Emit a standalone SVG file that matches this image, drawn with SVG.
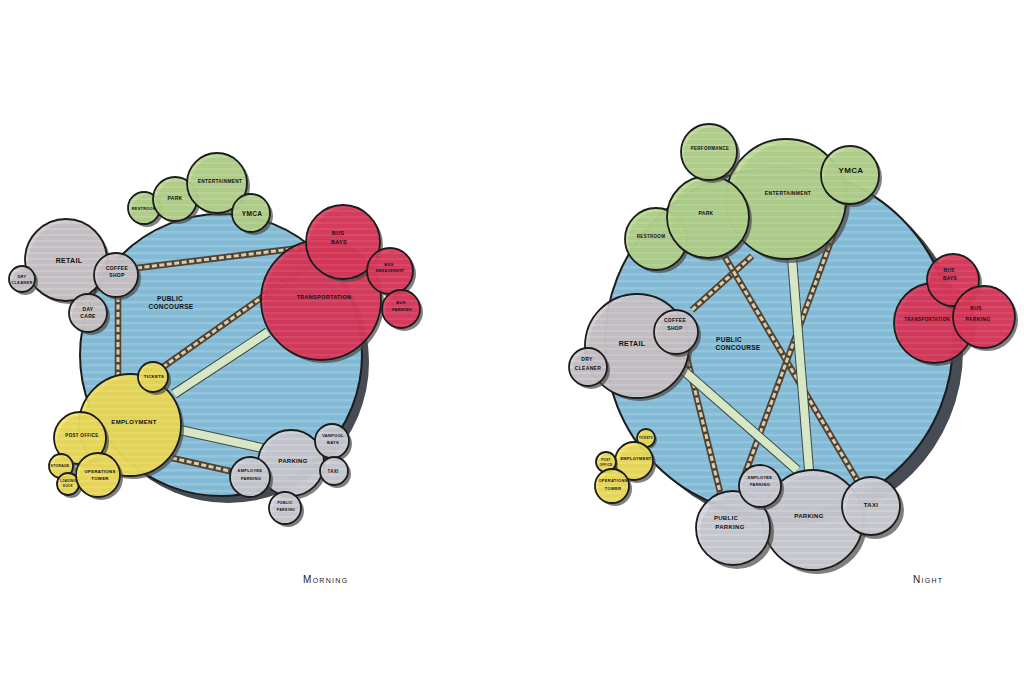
<svg xmlns="http://www.w3.org/2000/svg" width="1024" height="683" viewBox="0 0 1024 683">
<defs>
<pattern id="pBlue" patternUnits="userSpaceOnUse" width="20" height="7"><rect width="20" height="7" fill="#82b9d4"/><rect y="0" width="20" height="2.5" fill="#95c5dc"/></pattern>
<pattern id="pGray" patternUnits="userSpaceOnUse" width="20" height="6"><rect width="20" height="6" fill="#cbc5c9"/><rect width="20" height="2" fill="#d5d0d3"/></pattern>
<pattern id="pGray2" patternUnits="userSpaceOnUse" width="20" height="6"><rect width="20" height="6" fill="#cdcdd5"/><rect width="20" height="2" fill="#d7d7de"/></pattern>
<pattern id="pRed" patternUnits="userSpaceOnUse" width="20" height="6"><rect width="20" height="6" fill="#dd3458"/><rect width="20" height="2" fill="#e24464"/></pattern>
<pattern id="pGreen" patternUnits="userSpaceOnUse" width="20" height="6"><rect width="20" height="6" fill="#b4d58a"/><rect width="20" height="2" fill="#bfdb9a"/></pattern>
<pattern id="pYellow" patternUnits="userSpaceOnUse" width="20" height="6"><rect width="20" height="6" fill="#f0df55"/><rect width="20" height="2" fill="#f4e56c"/></pattern>
</defs>
<style>
.sh{fill:#4a4a4a;opacity:.7}
.shb{fill:#454c54}
.n{stroke:#1c1c1c;stroke-width:1.8;fill-opacity:.9}
.blue{fill:url(#pBlue);stroke:#1c1c1c;stroke-width:2}
.gray{fill:url(#pGray)}
.gray2{fill:url(#pGray2)}
.red{fill:url(#pRed)}
.green{fill:url(#pGreen)}
.yellow{fill:url(#pYellow)}
text{font-family:"Liberation Sans",Arial,sans-serif;fill:#111;text-anchor:middle;letter-spacing:.3px;font-weight:bold}
.dk{stroke:#4f4336;stroke-width:6.5;fill:none}
.dl{stroke:#dccdaa;stroke-width:3;stroke-dasharray:5 2.5;fill:none}
.bk{stroke:#3c4a44;stroke-width:10;fill:none}
.bl{stroke:#d7e7c6;stroke-width:8;fill:none}
.title{font-variant:small-caps;letter-spacing:1.3px;text-anchor:start;font-size:10px;font-weight:normal;fill:#222}
</style>
<rect width="1024" height="683" fill="#ffffff"/>

<!-- LEFT: MORNING -->
<g id="L-concourse">
<circle class="shb" cx="228" cy="362" r="141"/>
<circle class="blue" cx="221" cy="355" r="141"/>
<text font-size="6.5" x="170" y="301">PUBLIC</text>
<text font-size="6.5" x="171" y="309">CONCOURSE</text>
</g>
<g id="L-connectors">
<path class="dk" d="M137 268 L308 247"/><path class="dl" d="M137 268 L308 247"/>
<path class="dk" d="M118 297 L118 376"/><path class="dl" d="M118 297 L118 376"/>
<path class="dk" d="M163 367 L312 262"/><path class="dl" d="M163 367 L312 262"/>
<path class="dk" d="M172 458 L234 472"/><path class="dl" d="M172 458 L234 472"/>
<path class="bk" d="M174 394 L268 332"/><path class="bl" d="M174 394 L268 332"/>
<path class="bk" d="M180 430 L262 448"/><path class="bl" d="M180 430 L262 448"/>
</g>
<g id="L-restroom"><circle class="sh" cx="147" cy="211" r="16"/><circle class="n green" cx="144" cy="208" r="16"/><text font-size="3.8" x="144" y="210">RESTROOM</text></g>
<g id="L-park"><circle class="sh" cx="178" cy="202" r="22"/><circle class="n green" cx="175" cy="199" r="22"/><text font-size="5" x="175" y="200">PARK</text></g>
<g id="L-entertainment"><circle class="sh" cx="220" cy="186" r="30"/><circle class="n green" cx="217" cy="183" r="30"/><text font-size="4.8" x="220" y="183">ENTERTAINMENT</text></g>
<g id="L-ymca"><circle class="sh" cx="254" cy="216" r="19"/><circle class="n green" cx="251" cy="213" r="19"/><text font-size="6.5" x="252" y="216">YMCA</text></g>
<g id="L-retail"><circle class="sh" cx="69" cy="263" r="41"/><circle class="n gray" cx="66" cy="260" r="41"/><text font-size="7" x="69" y="263">RETAIL</text></g>
<g id="L-drycleaner"><circle class="sh" cx="25" cy="282" r="13"/><circle class="n gray" cx="22" cy="279" r="13"/><text font-size="4" x="22" y="278">DRY</text><text font-size="4" x="22" y="284">CLEANER</text></g>
<g id="L-coffeeshop"><circle class="sh" cx="119" cy="278" r="22"/><circle class="n gray" cx="116" cy="275" r="22"/><text font-size="5" x="117" y="270">COFFEE</text><text font-size="5" x="117" y="277">SHOP</text></g>
<g id="L-daycare"><circle class="sh" cx="91" cy="316" r="19"/><circle class="n gray" cx="88" cy="313" r="19"/><text font-size="5" x="88" y="311">DAY</text><text font-size="5" x="88" y="318">CARE</text></g>
<g id="L-transportation"><circle class="sh" cx="324" cy="303" r="60"/><circle class="n red" cx="321" cy="300" r="60"/><text font-size="5.5" x="324" y="299">TRANSPORTATION</text></g>
<g id="L-busbays"><circle class="sh" cx="346" cy="245" r="37"/><circle class="n red" cx="343" cy="242" r="37"/><text font-size="5.5" x="338" y="235">BUS</text><text font-size="5.5" x="339" y="244">BAYS</text></g>
<g id="L-busmanagement"><circle class="sh" cx="393" cy="274" r="23"/><circle class="n red" cx="390" cy="271" r="23"/><text font-size="4" x="389" y="266">BUS</text><text font-size="3.6" x="390" y="272">MANAGEMENT</text></g>
<g id="L-busparking"><circle class="sh" cx="404" cy="312" r="19"/><circle class="n red" cx="401" cy="309" r="19"/><text font-size="4" x="401" y="304">BUS</text><text font-size="4" x="402" y="311">PARKING</text></g>
<g id="L-employment"><circle class="sh" cx="133" cy="428" r="51"/><circle class="n yellow" cx="130" cy="425" r="51"/><text font-size="6" x="134" y="424">EMPLOYMENT</text></g>
<g id="L-tickets"><circle class="sh" cx="156" cy="380" r="15"/><circle class="n yellow" cx="153" cy="377" r="15"/><text font-size="4.3" x="154" y="378">TICKETS</text></g>
<g id="L-postoffice"><circle class="sh" cx="83" cy="441" r="26"/><circle class="n yellow" cx="80" cy="438" r="26"/><text font-size="4.5" x="82" y="437">POST OFFICE</text></g>
<g id="L-storage"><circle class="sh" cx="64" cy="469" r="12"/><circle class="n yellow" cx="61" cy="466" r="12"/><text font-size="3.4" x="60" y="467">STORAGE</text></g>
<g id="L-loadingdock"><circle class="sh" cx="71" cy="487" r="11"/><circle class="n yellow" cx="68" cy="484" r="11"/><text font-size="3" x="68" y="482">LOADING</text><text font-size="3" x="68" y="487">DOCK</text></g>
<g id="L-operationstower"><circle class="sh" cx="101" cy="478" r="22"/><circle class="n yellow" cx="98" cy="475" r="22"/><text font-size="4.3" x="100" y="473">OPERATIONS</text><text font-size="4.3" x="100" y="480">TOWER</text></g>
<g id="L-parking"><circle class="sh" cx="294" cy="466" r="33"/><circle class="n gray2" cx="291" cy="463" r="33"/><text font-size="6" x="293" y="463">PARKING</text></g>
<g id="L-vanpoolbays"><circle class="sh" cx="335" cy="444" r="17"/><circle class="n gray2" cx="332" cy="441" r="17"/><text font-size="4" x="333" y="437">VANPOOL</text><text font-size="4" x="333" y="444">BAYS</text></g>
<g id="L-taxi"><circle class="sh" cx="337" cy="474" r="14"/><circle class="n gray2" cx="334" cy="471" r="14"/><text font-size="4.5" x="333" y="473">TAXI</text></g>
<g id="L-employeeparking"><circle class="sh" cx="253" cy="480" r="20"/><circle class="n gray2" cx="250" cy="477" r="20"/><text font-size="4" x="250" y="472">EMPLOYEE</text><text font-size="4" x="251" y="480">PARKING</text></g>
<g id="L-publicparking"><circle class="sh" cx="288" cy="511" r="16"/><circle class="n gray2" cx="285" cy="508" r="16"/><text font-size="3.6" x="285" y="504">PUBLIC</text><text font-size="3.6" x="286" y="511">PARKING</text></g>
<text class="title" x="303" y="583">Morning</text>

<!-- RIGHT: NIGHT -->
<g id="R-concourse">
<circle class="shb" cx="789" cy="351" r="174"/>
<circle class="blue" cx="779" cy="342" r="174"/>
<text font-size="6.5" x="729" y="342">PUBLIC</text>
<text font-size="6.5" x="738" y="350">CONCOURSE</text>
</g>
<g id="R-connectors">
<path class="dk" d="M692 310 L752 256"/><path class="dl" d="M692 310 L752 256"/>
<path class="dk" d="M686 354 L720 492"/><path class="dl" d="M686 354 L720 492"/>
<path class="dk" d="M722 252 L857 480"/><path class="dl" d="M722 252 L857 480"/>
<path class="dk" d="M845 203 L742 482"/><path class="dl" d="M845 203 L742 482"/>
<path class="bk" d="M683 370 L797 470"/><path class="bl" d="M683 370 L797 470"/>
<path class="bk" d="M792 258 L809 470"/><path class="bl" d="M792 258 L809 470"/>
</g>
<g id="R-entertainment"><circle class="sh" cx="790" cy="203" r="60"/><circle class="n green" cx="786" cy="199" r="60"/><text font-size="5" x="788" y="195">ENTERTAINMENT</text></g>
<g id="R-restroom"><circle class="sh" cx="659" cy="242" r="31"/><circle class="n green" cx="656" cy="239" r="31"/><text font-size="4.5" x="651" y="238">RESTROOM</text></g>
<g id="R-park"><circle class="sh" cx="711" cy="220" r="41"/><circle class="n green" cx="708" cy="217" r="41"/><text font-size="5" x="706" y="215">PARK</text></g>
<g id="R-performance"><circle class="sh" cx="712" cy="155" r="28"/><circle class="n green" cx="709" cy="152" r="28"/><text font-size="4.5" x="710" y="150">PERFORMANCE</text></g>
<g id="R-ymca"><circle class="sh" cx="853" cy="178" r="29"/><circle class="n green" cx="850" cy="175" r="29"/><text font-size="8" x="851" y="173">YMCA</text></g>
<g id="R-retail"><circle class="sh" cx="640" cy="349" r="52"/><circle class="n gray" cx="637" cy="346" r="52"/><text font-size="7" x="632" y="346">RETAIL</text></g>
<g id="R-drycleaner"><circle class="sh" cx="591" cy="370" r="19"/><circle class="n gray" cx="588" cy="367" r="19"/><text font-size="5" x="587" y="361">DRY</text><text font-size="5" x="588" y="370">CLEANER</text></g>
<g id="R-coffeeshop"><circle class="sh" cx="679" cy="335" r="22"/><circle class="n gray" cx="676" cy="332" r="22"/><text font-size="5" x="675" y="322">COFFEE</text><text font-size="5" x="675" y="330">SHOP</text></g>
<g id="R-transportation"><circle class="sh" cx="937" cy="326" r="40"/><circle class="n red" cx="934" cy="323" r="40"/><text font-size="4.5" x="927" y="321">TRANSPORTATION</text></g>
<g id="R-busbays"><circle class="sh" cx="956" cy="283" r="26"/><circle class="n red" cx="953" cy="280" r="26"/><text font-size="4.8" x="949" y="272">BUS</text><text font-size="4.8" x="950" y="280">BAYS</text></g>
<g id="R-busparking"><circle class="sh" cx="987" cy="320" r="31"/><circle class="n red" cx="984" cy="317" r="31"/><text font-size="5" x="976" y="310">BUS</text><text font-size="5" x="978" y="321">PARKING</text></g>
<g id="R-tickets"><circle class="sh" cx="648" cy="440" r="9"/><circle class="n yellow" cx="646" cy="438" r="9"/><text font-size="2.8" x="646" y="439">TICKETS</text></g>
<g id="R-employment"><circle class="sh" cx="637" cy="464" r="19"/><circle class="n yellow" cx="634" cy="461" r="19"/><text font-size="4" x="636" y="460">EMPLOYMENT</text></g>
<g id="R-postoffice"><circle class="sh" cx="608" cy="464" r="10"/><circle class="n yellow" cx="606" cy="462" r="10"/><text font-size="3" x="606" y="461">POST</text><text font-size="3" x="606" y="466">OFFICE</text></g>
<g id="R-operationstower"><circle class="sh" cx="615" cy="489" r="17"/><circle class="n yellow" cx="612" cy="486" r="17"/><text font-size="4" x="613" y="482">OPERATIONS</text><text font-size="4" x="613" y="490">TOWER</text></g>
<g id="R-parking"><circle class="sh" cx="817" cy="524" r="50"/><circle class="n gray2" cx="813" cy="520" r="50"/><text font-size="6" x="809" y="518">PARKING</text></g>
<g id="R-publicparking"><circle class="sh" cx="737" cy="532" r="37"/><circle class="n gray2" cx="733" cy="528" r="37"/><text font-size="6" x="726" y="520">PUBLIC</text><text font-size="6" x="730" y="529">PARKING</text></g>
<g id="R-employeeparking"><circle class="sh" cx="763" cy="489" r="21"/><circle class="n gray2" cx="760" cy="486" r="21"/><text font-size="4" x="760" y="479">EMPLOYEE</text><text font-size="4" x="760" y="486">PARKING</text></g>
<g id="R-taxi"><circle class="sh" cx="875" cy="510" r="29"/><circle class="n gray2" cx="871" cy="506" r="29"/><text font-size="6" x="871" y="507">TAXI</text></g>
<text class="title" x="913" y="583">Night</text>
</svg>
